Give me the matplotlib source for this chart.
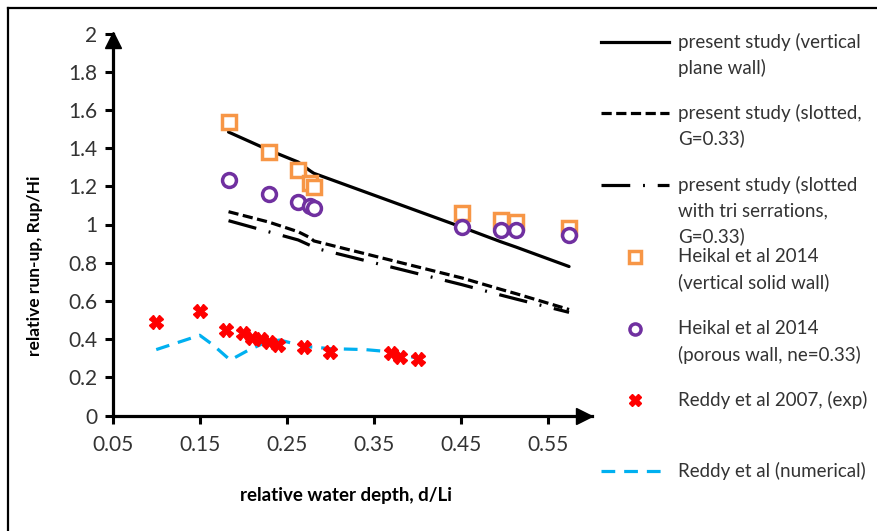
import matplotlib
matplotlib.use("Agg")
import matplotlib.pyplot as plt
from matplotlib.lines import Line2D

plt.rcParams['font.family'] = ['Lato', 'DejaVu Sans']

# present study, x = d/Li
d_present = [0.183, 0.229, 0.263, 0.277, 0.281, 0.451, 0.496, 0.513, 0.574]
run_plane = [1.484, 1.39, 1.327, 1.28, 1.268, 0.986, 0.909, 0.882, 0.78]
run_slotted = [1.067, 1.013, 0.962, 0.93, 0.914, 0.72, 0.66, 0.638, 0.555]
run_serr = [1.02, 0.962, 0.919, 0.89, 0.878, 0.685, 0.63, 0.61, 0.54]

# Heikal et al 2014
d_heikal = [0.183, 0.229, 0.263, 0.277, 0.281, 0.451, 0.496, 0.513, 0.574]
heikal_solid = [1.537, 1.379, 1.285, 1.215, 1.194, 1.058, 1.023, 1.013, 0.982]
heikal_porous = [1.233, 1.159, 1.117, 1.096, 1.086, 0.987, 0.971, 0.971, 0.945]

# Reddy et al 2007
d_reddy = [0.10, 0.15, 0.18, 0.20, 0.21, 0.22, 0.23, 0.24, 0.27, 0.30, 0.37, 0.38, 0.40]
reddy_exp = [0.49, 0.545, 0.45, 0.43, 0.405, 0.40, 0.385, 0.37, 0.357, 0.334, 0.326, 0.305, 0.296]
d_reddy_num = [0.10, 0.15, 0.165, 0.185, 0.205, 0.227, 0.242, 0.27, 0.30, 0.34, 0.365, 0.40]
reddy_num = [0.345, 0.42, 0.37, 0.29, 0.34, 0.386, 0.395, 0.362, 0.35, 0.345, 0.335, 0.30]

xticks = [0.05, 0.15, 0.25, 0.35, 0.45, 0.55]
yticks = [0, 0.2, 0.4, 0.6, 0.8, 1, 1.2, 1.4, 1.6, 1.8, 2]
ytick_labels = ["0", "0.2", "0.4", "0.6", "0.8", "1", "1.2", "1.4", "1.6", "1.8", "2"]

W, H = 878, 531
fig = plt.figure(figsize=(W / 100, H / 100), dpi=100)
ax = fig.add_axes([112.7 / W, 115.5 / H, (591.7 - 112.7) / W, (415.5 - 33.5) / H])

txt = '#333333'
ax.plot(d_present, run_plane, color='k', lw=2.3, solid_capstyle='round')
ax.plot(d_present, run_slotted, color='k', lw=2.3, dashes=(3.2, 1.4))
ax.plot(d_present, run_serr, color='k', lw=2.3, dashes=(9, 4, 0.6, 4))
ax.plot(d_heikal, heikal_solid, ls='none', marker='s', ms=10, mfc='white',
        mec='#F79646', mew=2.5)
ax.plot(d_heikal, heikal_porous, ls='none', marker='o', ms=10, mfc='white',
        mec='#7030A0', mew=2.5)
ax.plot(d_reddy_num, reddy_num, color='#00B0F0', lw=2.3, dashes=(4.3, 2.8))
ax.plot(d_reddy, reddy_exp, ls='none', marker='X', ms=10, color='#FF0000',
        mec='#FF0000')

ax.set_xlim(0.05, 0.6)
ax.set_ylim(0, 2)
ax.set_xticks(xticks)
ax.set_xticklabels([f"{v:.2f}" for v in xticks])
ax.set_yticks(yticks)
ax.set_yticklabels(ytick_labels)
ax.tick_params(axis='both', direction='out', length=6, width=2.2,
               labelsize=15, labelcolor=txt)
ax.tick_params(axis='x', pad=8)
ax.tick_params(axis='y', pad=5)
for s in ['top', 'right']:
    ax.spines[s].set_visible(False)
for s in ['left', 'bottom']:
    ax.spines[s].set_linewidth(2.3)

# axis arrow heads, tip at the axis end
head = 11  # marker size in points
ax.plot([1 - 0.5 * head / 0.72 / 479], [0], marker='>', ms=head, color='k',
        transform=ax.transAxes, clip_on=False)
ax.plot([0], [1 - 0.5 * head / 0.72 / 382 + 0.004], marker='^', ms=head,
        color='k', transform=ax.transAxes, clip_on=False)

fig.text(346 / W, 1 - 496 / H, "relative water depth, d/Li", ha='center',
         va='center', fontsize=13.5, fontweight='bold', color='k')
fig.text(35 / W, 1 - 266 / H, "relative run-up, Rup/Hi", ha='center',
         va='center', fontsize=12.5, fontweight='bold', color='k', rotation=90)

# legend drawn by hand
leg_labels = [
    "present study (vertical\nplane wall)",
    "present study (slotted,\nG=0.33)",
    "present study (slotted\nwith tri serrations,\nG=0.33)",
    "Heikal et al 2014\n(vertical solid wall)",
    "Heikal et al 2014\n(porous wall, ne=0.33)",
    "Reddy et al 2007, (exp)",
    "Reddy et al (numerical)",
]
leg_y = [42, 113, 185, 257, 329, 400, 471]
handles = [
    dict(color='k', lw=2.3),
    dict(color='k', lw=2.3, dashes=(3.2, 1.4)),
    dict(color='k', lw=2.3, dashes=(9, 4, 0.6, 4)),
    dict(ls='none', marker='s', ms=8, mfc='white', mec='#F79646', mew=2.5),
    dict(ls='none', marker='o', ms=8, mfc='white', mec='#7030A0', mew=2.5),
    dict(ls='none', marker='X', ms=9, color='#FF0000'),
    dict(color='#00B0F0', lw=2.3, dashes=(4.3, 2.8)),
]
for lab, y, h in zip(leg_labels, leg_y, handles):
    if h.get('ls') == 'none':
        xs = [635 / W]
    else:
        xs = [601 / W, 669 / W]
    fig.add_artist(Line2D(xs, [1 - y / H] * len(xs), **h))
    for i, line in enumerate(lab.split("\n")):
        fig.text(678 / W, 1 - (y + i * 25.5) / H, line, ha='left', va='center',
                 fontsize=13.5, color=txt)

# outer chart frame (left and top edges visible)
fig.add_artist(Line2D([8 / W, 8 / W], [0, 1 - 8 / H], color='k', lw=1.6))
fig.add_artist(Line2D([8 / W, 1], [1 - 8 / H, 1 - 8 / H], color='k', lw=1.6))

fig.savefig("out.png", dpi=100)
